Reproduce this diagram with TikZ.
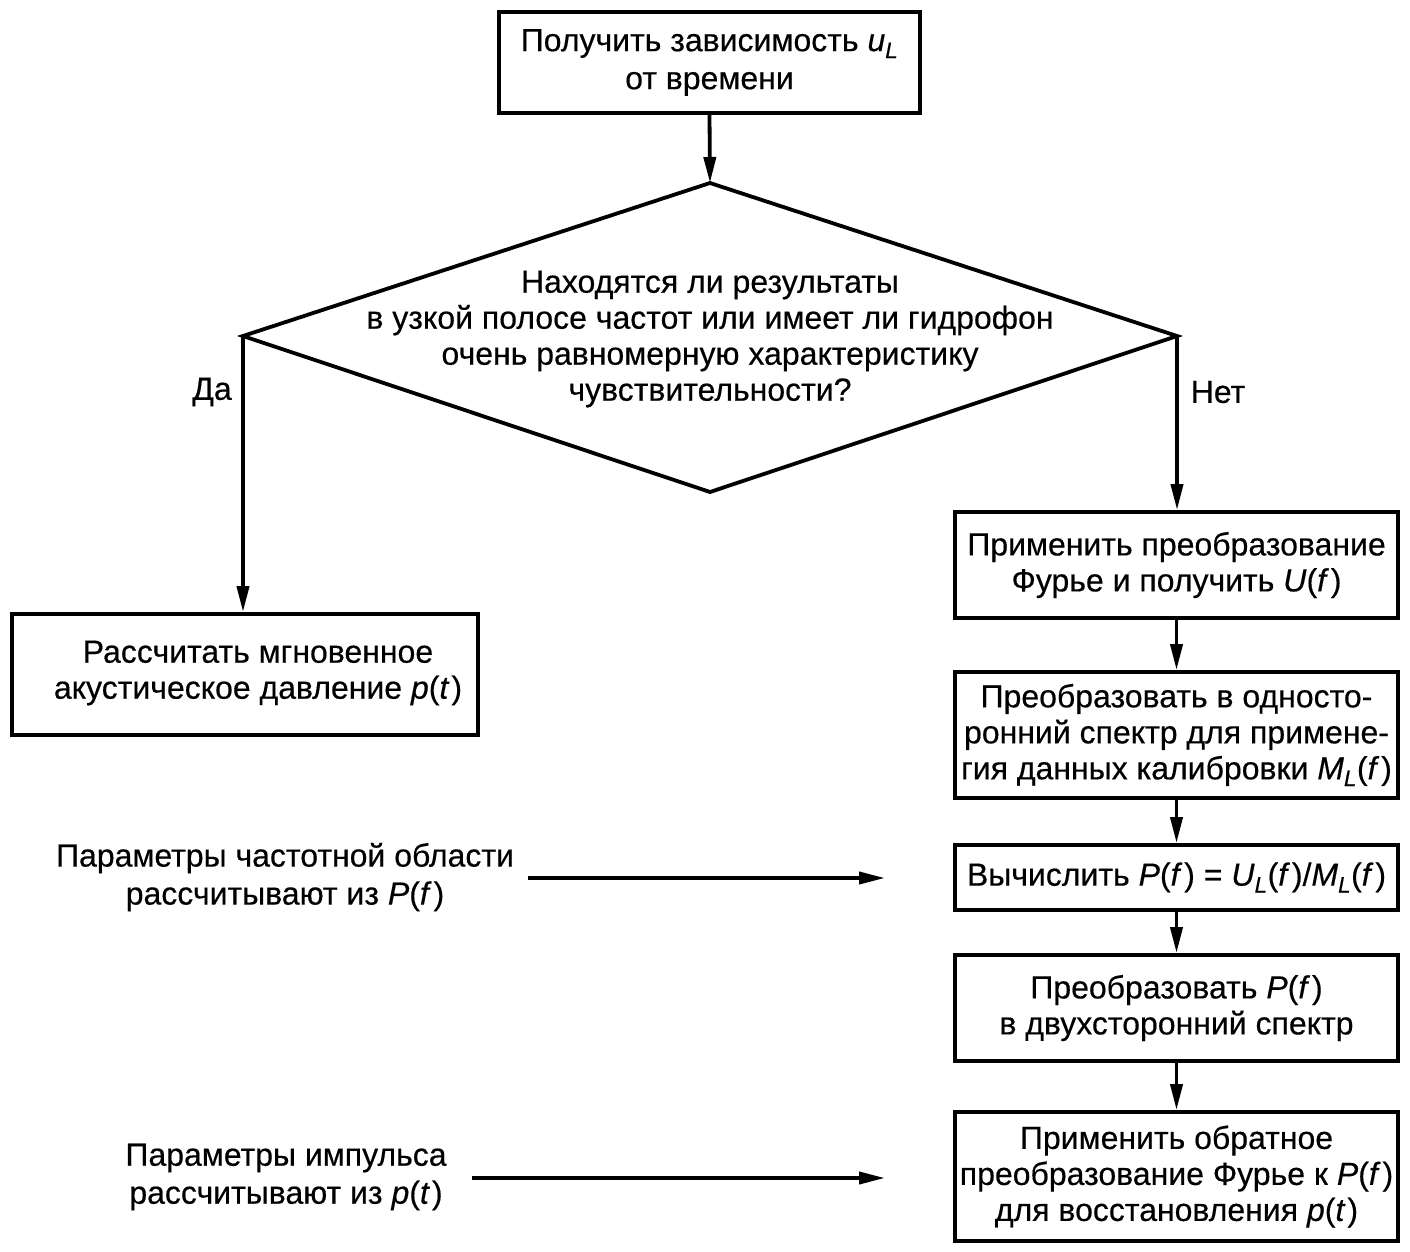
\documentclass[tikz,border=0pt]{standalone}
\usepackage{fontspec}
\setmainfont{Liberation Sans}[FakeBold=0.4,AutoFakeBold=0.4]
\usetikzlibrary{arrows.meta}
\tikzset{
  box/.style={draw, line width=3.8pt, inner sep=0pt, align=center, font=\fontsize{32}{36}\selectfont},
  txt/.style={align=center, inner sep=0pt, font=\fontsize{32}{36}\selectfont},
  conn/.style={line width=3.8pt, -{Triangle[length=26pt,width=12pt]}},
}
\newcommand{\vi}[1]{\textit{#1}}
\newcommand{\fk}{\kern2pt}
\begin{document}
\begin{tikzpicture}[x=1pt,y=-1pt]
\useasboundingbox (0,0) rectangle (1410,1252);
% top box
\node[box, minimum width=421pt, minimum height=101pt, font=\fontsize{32}{38}\selectfont] (top) at (709.5,62.5)
  {Получить зависимость \vi{u}\textsubscript{\vi{L}}\\от времени};
% diamond
\coordinate (dtop) at (710,183);
\coordinate (dright) at (1177,336);
\coordinate (dbot) at (710,492);
\coordinate (dleft) at (243,336);
\draw[line width=3.8pt, line join=miter] (dtop) -- (dright) -- (dbot) -- (dleft) -- cycle;
\node[txt] (q) at (710,339) {Находятся ли результаты\\в узкой полосе частот или имеет ли гидрофон\\очень равномерную характеристику\\чувствительности?};
\node[txt] (da) at (212,392) {Да};
\node[txt] (net) at (1218,392) {Нет};
% left box
\node[box, minimum width=466pt, minimum height=121pt] (lb) at (245,674.5) {};
\node[txt] (lbt) at (258,673) {Рассчитать мгновенное\\акустическое давление \vi{p}(\vi{t}\fk)};
% right boxes
\node[box, minimum width=443pt, minimum height=106pt] (b1) at (1176.5,565)
  {Применить преобразование\\Фурье и получить \vi{U}(\vi{f}\fk)};
\node[box, minimum width=443pt, minimum height=126pt] (b2) at (1176.5,735)
  {Преобразовать в односто-\\ронний спектр для примене-\\гия данных калибровки \vi{M}\textsubscript{\vi{L}}(\vi{f}\fk)};
\node[box, minimum width=443pt, minimum height=65pt] (b3) at (1176.5,877.5)
  {Вычислить \vi{P}(\vi{f}\fk) = \vi{U}\textsubscript{\vi{L}}(\vi{f}\fk)/\vi{M}\textsubscript{\vi{L}}(\vi{f}\fk)};
\node[box, minimum width=443pt, minimum height=106pt] (b4) at (1176.5,1008)
  {Преобразовать \vi{P}(\vi{f}\fk)\\в двухсторонний спектр};
\node[box, minimum width=443pt, minimum height=129pt] (b5) at (1176.5,1176.5)
  {Применить обратное\\преобразование Фурье к \vi{P}(\vi{f}\fk)\\для восстановления \vi{p}(\vi{t}\fk)};
% side labels
\node[txt, font=\fontsize{32}{38}\selectfont] (p1) at (285,877) {Параметры частотной области\\рассчитывают из \vi{P}(\vi{f}\fk)};
\node[txt, font=\fontsize{32}{38}\selectfont] (p2) at (286,1177) {Параметры импульса\\рассчитывают из \vi{p}(\vi{t}\fk)};
\coordinate (a1s) at (528,878);
\coordinate (a1e) at (885,878);
\coordinate (a2s) at (472,1178);
\coordinate (a2e) at (885,1178);
% connectors
\draw[conn] (top.south) -- (dtop);
\draw[conn] (dleft) -- (dleft |- lb.north);
\draw[conn] (dright) -- (dright |- b1.north);
\draw[conn] (b1.south) -- (b2.north);
\draw[conn] (b2.south) -- (b3.north);
\draw[conn] (b3.south) -- (b4.north);
\draw[conn] (b4.south) -- (b5.north);
\draw[conn] (a1s) -- (a1e);
\draw[conn] (a2s) -- (a2e);
\end{tikzpicture}
\end{document}
